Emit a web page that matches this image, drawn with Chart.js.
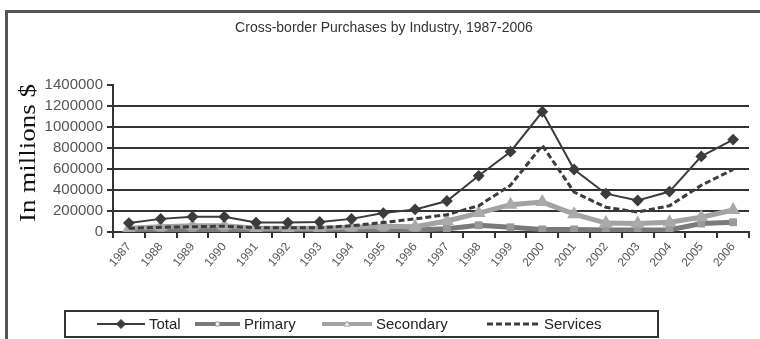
<!DOCTYPE html>
<html>
<head>
<meta charset="utf-8">
<script src="https://cdn.jsdelivr.net/npm/chart.js@4/dist/chart.umd.min.js"></script>
<style>
  html, body { margin: 0; padding: 0; background: #fff; }
  #wrap { width: 760px; height: 339px; position: relative; }
</style>
</head>
<body>
<div id="wrap"><canvas id="c" width="760" height="339"></canvas></div>
<script>
// Cross-border purchases by industry, in millions of dollars
const years = ['1987','1988','1989','1990','1991','1992','1993','1994','1995','1996',
               '1997','1998','1999','2000','2001','2002','2003','2004','2005','2006'];
const total     = [85000,125000,145000,145000,90000,90000,95000,125000,180000,215000,
                   295000,535000,765000,1145000,595000,365000,300000,385000,720000,880000];
const primary   = [10000,12000,15000,15000,12000,10000,10000,12000,15000,20000,
                   30000,65000,45000,25000,25000,20000,20000,20000,80000,93000];
const secondary = [35000,50000,60000,60000,35000,35000,35000,45000,55000,50000,
                   105000,180000,260000,285000,170000,85000,80000,93000,140000,210000];
const services  = [35000,45000,50000,55000,40000,40000,40000,60000,90000,125000,
                   165000,250000,445000,825000,380000,235000,190000,250000,445000,595000];
const yTicks = [0,200000,400000,600000,800000,1000000,1200000,1400000];

const chartTitle = 'Cross-border Purchases by Industry, 1987-2006';
const yTitle = 'In millions $';
const SANS = "'Liberation Sans Narrow', 'Liberation Sans', Arial, sans-serif";
const SERIF = "'Liberation Serif', 'Times New Roman', serif";

// frame, heading, vertical axis caption and boxed legend
const decor = {
  id: 'decor',
  beforeDraw(chart) {
    const ctx = chart.ctx;
    ctx.save();
    ctx.fillStyle = '#fff';
    ctx.fillRect(0, 0, chart.width, chart.height);
    ctx.strokeStyle = '#555';
    ctx.lineWidth = 3;
    ctx.strokeRect(6.5, 11.5, chart.width + 20, chart.height + 20);
    ctx.restore();
  },
  afterDraw(chart) {
    const ctx = chart.ctx;
    const area = chart.chartArea;
    ctx.save();
    // heading
    ctx.fillStyle = '#333';
    ctx.font = '14px ' + SANS;
    ctx.textAlign = 'center';
    ctx.textBaseline = 'middle';
    ctx.fillText(chartTitle, 384, 28);

    // vertical caption
    ctx.font = '23px ' + SERIF;
    ctx.fillStyle = '#111';
    const w = ctx.measureText(yTitle).width;
    ctx.translate(28, 153);
    ctx.rotate(-Math.PI / 2);
    ctx.scale(138 / w, 1);
    ctx.textAlign = 'center';
    ctx.fillText(yTitle, 0, 1);
    ctx.restore();

    // legend box
    ctx.save();
    ctx.fillStyle = '#fff';
    ctx.fillRect(65, 311, 593, 26);
    ctx.strokeStyle = '#333';
    ctx.lineWidth = 2;
    ctx.strokeRect(65, 311, 593, 26);
    const ly = 324;
    const slots = [[97, 48], [195, 45], [322, 50], [487, 53]];
    chart.data.datasets.forEach((ds, i) => {
      const [sx, sl] = slots[i];
      ctx.save();
      ctx.strokeStyle = ds.borderColor;
      ctx.lineWidth = Math.min(ds.borderWidth, 4);
      ctx.setLineDash(ds.borderDash || []);
      ctx.beginPath();
      ctx.moveTo(sx, ly);
      ctx.lineTo(sx + sl, ly);
      ctx.stroke();
      ctx.setLineDash([]);
      const cx = sx + sl / 2;
      if (ds.pointRadius > 0) {
        ctx.fillStyle = ds.pointBackgroundColor;
        ctx.strokeStyle = ds.pointBorderColor;
        ctx.lineWidth = 1;
        const r = ds.pointRadius;
        ctx.beginPath();
        if (ds.pointStyle === 'rectRot') {
          ctx.moveTo(cx, ly - r); ctx.lineTo(cx + r, ly); ctx.lineTo(cx, ly + r); ctx.lineTo(cx - r, ly);
        } else if (ds.pointStyle === 'triangle') {
          ctx.moveTo(cx, ly - r); ctx.lineTo(cx + r, ly + r * 0.7); ctx.lineTo(cx - r, ly + r * 0.7);
        } else {
          ctx.rect(cx - r, ly - r, 2 * r, 2 * r);
        }
        ctx.closePath();
        ctx.fill();
        ctx.stroke();
      }
      ctx.fillStyle = '#222';
      ctx.font = '15px ' + SANS;
      ctx.textAlign = 'left';
      ctx.textBaseline = 'middle';
      ctx.fillText(ds.label, sx + sl + 4, ly + 1);
      ctx.restore();
    });
    ctx.restore();
  }
};

new Chart(document.getElementById('c'), {
  type: 'line',
  data: {
    labels: years,
    datasets: [
      { label: 'Total', data: total, borderColor: '#3c3c3c', borderWidth: 2,
        pointStyle: 'rectRot', pointRadius: 4.5, pointBackgroundColor: '#3c3c3c',
        pointBorderColor: '#3c3c3c', order: 0 },
      { label: 'Primary', data: primary, borderColor: '#7a7a7a', borderWidth: 5,
        pointStyle: 'rect', pointRadius: 2, pointBackgroundColor: '#f2f2f2',
        pointBorderColor: '#999', order: 3 },
      { label: 'Secondary', data: secondary, borderColor: '#a3a3a3', borderWidth: 5,
        pointStyle: 'triangle', pointRadius: 3, pointBackgroundColor: '#f2f2f2',
        pointBorderColor: '#aaa', order: 2 },
      { label: 'Services', data: services, borderColor: '#3c3c3c', borderWidth: 3,
        borderDash: [6, 3], pointRadius: 0, pointBackgroundColor: '#3c3c3c',
        pointBorderColor: '#3c3c3c', order: 1 }
    ]
  },
  options: {
    responsive: false,
    animation: false,
    layout: { padding: { left: 0, right: 11, top: 85, bottom: 0 } },
    plugins: { legend: { display: false }, title: { display: false }, tooltip: { enabled: false } },
    elements: { line: { tension: 0 } },
    scales: {
      x: {
        offset: true,
        grid: { offset: true, drawOnChartArea: false, color: '#333', lineWidth: 2, tickLength: 6 },
        border: { color: '#333', width: 2 },
        ticks: { autoSkip: false, minRotation: 50, maxRotation: 50, color: '#555',
                 font: { family: SANS, size: 12 }, padding: 2 },
        afterFit(scale) { scale.height = 107; }
      },
      y: {
        min: 0, max: 1400000,
        afterBuildTicks(scale) { scale.ticks = yTicks.map(v => ({ value: v })); },
        grid: {
          color: c => (c.tick && c.tick.value === 1400000) ? 'rgba(0,0,0,0)' : '#333',
          tickColor: '#333', lineWidth: 2, tickLength: 6
        },
        border: { color: '#333', width: 2 },
        ticks: { color: '#555', font: { family: SANS, size: 15 }, padding: 4,
                 callback: v => String(v) },
        afterFit(scale) { scale.width = 113; }
      }
    }
  },
  plugins: [decor]
});
</script>
</body>
</html>
